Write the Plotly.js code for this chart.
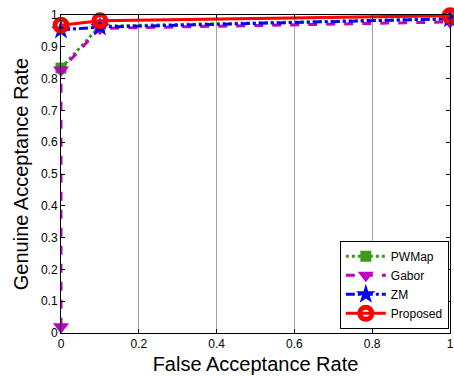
<!DOCTYPE html>
<html>
<head>
<meta charset="utf-8">
<script src="https://cdn.plot.ly/plotly-3.0.1.min.js"></script>
<style>html,body{margin:0;padding:0;background:#fff;}#chart{width:454px;height:376px;}</style>
</head>
<body>
<div id="chart"></div>
<script>
var seriesNames = ["PWMap", "Gabor", "ZM", "Proposed"];
var pwmapX = [0, 0.1, 1];
var pwmapY = [0.833, 0.965, 0.988];
var gaborX = [0, 0, 0.1, 1];
var gaborY = [0.02, 0.827, 0.958, 0.978];
var zmX = [0, 0.1, 1];
var zmY = [0.953, 0.962, 0.988];
var proposedX = [0, 0.1, 1];
var proposedY = [0.968, 0.982, 0.998];
var xTicks = [0, 0.2, 0.4, 0.6, 0.8, 1];
var xTickText = ["0", "0.2", "0.4", "0.6", "0.8", "1"];
var yTicks = [0, 0.1, 0.2, 0.3, 0.4, 0.5, 0.6, 0.7, 0.8, 0.9, 1];
var yTickText = ["0", "0.1", "0.2", "0.3", "0.4", "0.5", "0.6", "0.7", "0.8", "0.9", "1"];

var FONT = "Liberation Sans, Arial, sans-serif";
var traces = [
  {x: pwmapX, y: pwmapY, name: seriesNames[0], mode: "lines+markers", cliponaxis: false,
   line: {color: "#3a9a1a", width: 3, dash: "dot"},
   marker: {symbol: "square", size: 11, color: "#3a9a1a"}},
  {x: gaborX, y: gaborY, name: seriesNames[1], mode: "lines+markers", cliponaxis: false,
   line: {color: "#c000c0", width: 3, dash: "dash"},
   marker: {symbol: "triangle-down", size: 14, color: "#c000c0"}},
  {x: zmX, y: zmY, name: seriesNames[2], mode: "lines+markers", cliponaxis: false,
   line: {color: "#0000ff", width: 3, dash: "dashdot"},
   marker: {symbol: "star", size: 15, color: "#0000ff"}},
  {x: proposedX, y: proposedY, name: seriesNames[3], mode: "lines+markers", cliponaxis: false,
   line: {color: "#ff0000", width: 3},
   marker: {symbol: "circle-open", size: 12, color: "#ff0000", line: {width: 5, color: "#ff0000"}}}
];

var layout = {
  width: 454, height: 376,
  margin: {l: 61, r: 4, t: 15, b: 43, pad: 0},
  paper_bgcolor: "#fff", plot_bgcolor: "#fff",
  font: {family: FONT, size: 11, color: "#000"},
  showlegend: true,
  legend: {x: 0.997, y: 0.013, xanchor: "right", yanchor: "bottom",
    bordercolor: "#000", borderwidth: 1, bgcolor: "#fff",
    font: {family: FONT, size: 12, color: "#000"}, tracegroupgap: 0, itemwidth: 40},
  xaxis: {range: [0, 1], tickvals: xTicks, ticktext: xTickText, ticks: "inside", ticklen: 4,
    tickcolor: "#000", showline: true, linecolor: "#000", linewidth: 1, mirror: "ticks",
    showgrid: true, gridcolor: "#a0a0a0", gridwidth: 1, zeroline: false,
    tickfont: {family: FONT, size: 12, color: "#000"},
    title: {text: "False Acceptance Rate", font: {family: FONT, size: 20, color: "#000"}, standoff: 6}},
  yaxis: {range: [0, 1], tickvals: yTicks, ticktext: yTickText, ticks: "inside", ticklen: 4,
    tickcolor: "#000", showline: true, linecolor: "#000", linewidth: 1, mirror: "ticks",
    showgrid: false, zeroline: false,
    tickfont: {family: FONT, size: 12, color: "#000"},
    title: {text: "Genuine Acceptance Rate", font: {family: FONT, size: 20, color: "#000"}, standoff: 6}}
};
Plotly.newPlot("chart", traces, layout, {displayModeBar: false, staticPlot: true});
</script>
</body>
</html>
